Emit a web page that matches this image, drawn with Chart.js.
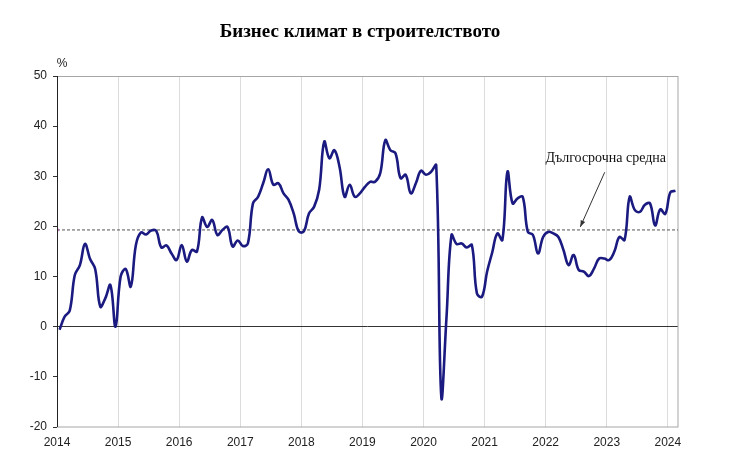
<!DOCTYPE html>
<html>
<head>
<meta charset="utf-8">
<script src="https://cdn.jsdelivr.net/npm/chart.js@4.4.1/dist/chart.umd.min.js"></script>
<style>
  html, body { margin: 0; padding: 0; background: #fff; }
  #wrap { width: 740px; height: 476px; position: relative; }
  canvas { display: block; }
</style>
</head>
<body>
<div id="wrap"><canvas id="c" width="740" height="476"></canvas></div>
<script>
// ---- data ----
const chartTitle = 'Бизнес климат в строителството';
const unitLabel = '%';
const averageLabel = 'Дългосрочна средна';
const startYear = 2014;
const yearLabels = ['2014','2015','2016','2017','2018','2019','2020','2021','2022','2023','2024'];
const yTicks = [-20, -10, 0, 10, 20, 30, 40, 50];
// monthly values, Jan 2014 .. Feb 2024
const businessClimate = [
  -0.6, 2.0, 3.2, 10.3, 12.3, 16.5, 13.5, 11.5, 4.0, 5.7, 8.3, 0.0,
  10.0, 11.5, 8.0, 16.3, 18.8, 18.4, 19.2, 19.1, 15.8, 16.2, 14.6, 13.3,
  16.3, 13.0, 15.3, 15.0, 21.8, 19.9, 21.3, 18.3, 19.3, 19.9, 16.0, 17.2,
  16.1, 16.6, 24.6, 25.9, 28.6, 31.4, 28.3, 28.6, 26.6, 25.3, 22.6, 19.0,
  19.0, 22.6, 23.9, 27.3, 36.9, 33.6, 35.2, 31.9, 25.9, 28.3, 25.9, 26.6,
  27.9, 28.9, 28.9, 30.6, 37.2, 35.2, 34.6, 29.6, 30.3, 26.6, 28.6, 31.1,
  30.3, 30.9, 32.2, -14.0, 1.5, 18.3, 16.5, 16.6, 15.8, 16.3, 6.6, 6.0,
  11.0, 14.8, 18.6, 17.3, 30.9, 24.6, 25.6, 25.9, 18.9, 18.3, 14.6, 17.9,
  18.9, 18.6, 17.9, 15.3, 12.3, 14.3, 11.3, 11.0, 10.1, 11.6, 13.6, 13.6,
  13.3, 15.0, 17.9, 17.3, 25.9, 23.3, 22.9, 24.3, 24.6, 20.2, 23.4, 22.5,
  26.8, 27.1
];
const longTermAverage = 19.3;

// ---- build ----
const nMonths = businessClimate.length;
const linePoints = businessClimate.map((v, i) => ({ x: i + 0.5, y: v }));
const avgPoints = [{ x: 0, y: longTermAverage }, { x: nMonths, y: longTermAverage }];

const decorPlugin = {
  id: 'decor',
  beforeDatasetsDraw(chart) {
    const { ctx, chartArea: a } = chart;
    ctx.save();
    ctx.strokeStyle = '#a6a6a6';
    ctx.lineWidth = 1;
    ctx.strokeRect(a.left + 0.5, a.top + 0.5, a.right - a.left - 0.5, a.bottom - a.top - 0.5);
    ctx.restore();
  },
  afterDatasetsDraw(chart) {
    const { ctx, chartArea: a, scales } = chart;
    const xs = scales.x, ys = scales.y;
    ctx.save();
    ctx.strokeStyle = '#222';
    ctx.lineWidth = 1;
    ctx.beginPath();
    ctx.moveTo(a.left + 0.5, a.top);
    ctx.lineTo(a.left + 0.5, a.bottom);
    ctx.stroke();
    ctx.fillStyle = '#000';
    ctx.font = 'bold 19px "Liberation Serif", "DejaVu Serif", serif';
    ctx.textAlign = 'center';
    ctx.textBaseline = 'middle';
    ctx.fillText(chartTitle, 360, 32);
    ctx.font = '12px "Liberation Sans", Arial, sans-serif';
    ctx.fillStyle = '#222';
    ctx.fillText(unitLabel, 62, 64);
    ctx.font = '14px "Liberation Serif", serif';
    ctx.fillStyle = '#111';
    const tx = xs.getPixelForValue(107.8), ty = ys.getPixelForValue(33.6);
    ctx.fillText(averageLabel, tx, ty);
    const x1 = xs.getPixelForValue(107.6), y1 = ys.getPixelForValue(30.8);
    const x2 = xs.getPixelForValue(102.8), y2 = ys.getPixelForValue(19.9);
    ctx.strokeStyle = '#333';
    ctx.lineWidth = 1;
    ctx.beginPath();
    ctx.moveTo(x1, y1);
    ctx.lineTo(x2, y2);
    ctx.stroke();
    const ang = Math.atan2(y2 - y1, x2 - x1);
    ctx.fillStyle = '#333';
    ctx.beginPath();
    ctx.moveTo(x2, y2);
    ctx.lineTo(x2 - 7 * Math.cos(ang - 0.35), y2 - 7 * Math.sin(ang - 0.35));
    ctx.lineTo(x2 - 7 * Math.cos(ang + 0.35), y2 - 7 * Math.sin(ang + 0.35));
    ctx.closePath();
    ctx.fill();
    ctx.restore();
  }
};

new Chart(document.getElementById('c'), {
  type: 'line',
  data: {
    datasets: [
      {
        label: averageLabel,
        data: avgPoints,
        borderColor: '#555',
        borderWidth: 1,
        borderDash: [3, 2],
        pointRadius: [2, 0],
        pointStyle: 'rect',
        pointBackgroundColor: '#d020d0',
        pointBorderWidth: 0,
        tension: 0,
        order: 2
      },
      {
        label: chartTitle,
        data: linePoints,
        borderColor: '#1a1a80',
        borderWidth: 2.6,
        pointRadius: 0,
        tension: 0.4,
        fill: false,
        order: 1
      }
    ]
  },
  options: {
    responsive: false,
    animation: false,
    devicePixelRatio: 1,
    layout: { padding: { left: 0, right: 62, top: 76, bottom: 0 } },
    plugins: { legend: { display: false }, tooltip: { enabled: false }, title: { display: false } },
    scales: {
      x: {
        type: 'linear',
        min: 0,
        max: nMonths,
        afterBuildTicks(scale) {
          scale.ticks = yearLabels.map((_, k) => ({ value: k * 12 }));
        },
        afterFit(scale) { scale.height = 49; },
        ticks: {
          callback: (v) => String(startYear + Math.round(v / 12)),
          color: '#222',
          font: { family: '"Liberation Sans", Arial, sans-serif', size: 12 },
          padding: 8,
          maxRotation: 0,
          autoSkip: false
        },
        grid: { color: '#dcdcdc', drawTicks: false, lineWidth: 1 },
        border: { display: false }
      },
      y: {
        min: -20,
        max: 50,
        afterBuildTicks(scale) {
          scale.ticks = yTicks.map(v => ({ value: v }));
        },
        afterFit(scale) { scale.width = 57; },
        ticks: {
          color: '#222',
          font: { family: '"Liberation Sans", Arial, sans-serif', size: 12 },
          padding: 6
        },
        grid: {
          color: (c) => (c.tick && c.tick.value === 0 ? '#333' : 'rgba(0,0,0,0)'),
          tickColor: '#333',
          tickLength: 4,
          lineWidth: 1
        },
        border: { display: false }
      }
    }
  },
  plugins: [decorPlugin]
});
</script>
</body>
</html>
